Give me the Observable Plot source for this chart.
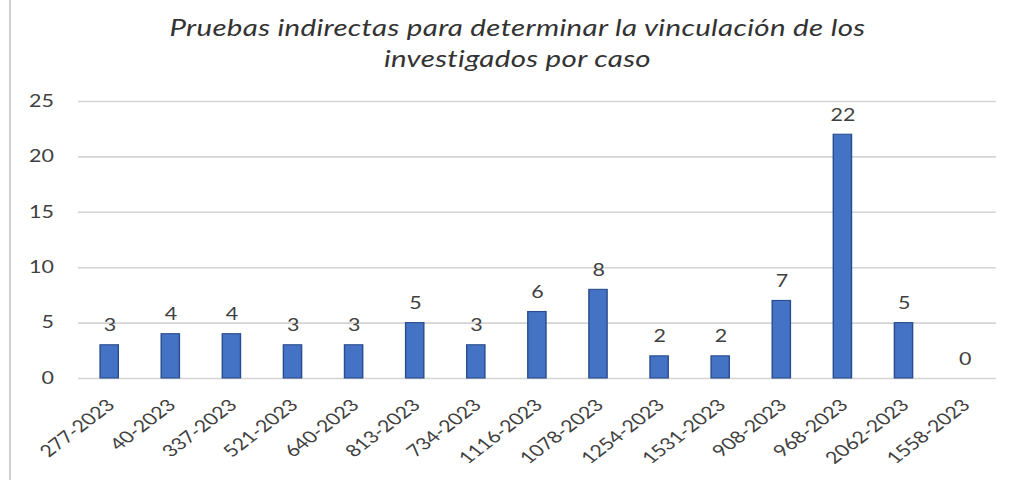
<!DOCTYPE html>
<html>
<head>
<meta charset="utf-8">
<script src="https://cdn.jsdelivr.net/npm/d3@7"></script>
<script src="https://cdn.jsdelivr.net/npm/@observablehq/plot@0.6"></script>
<style>
  html, body { margin: 0; padding: 0; background: #fff; }
  #frame { position: relative; width: 1015px; height: 480px; overflow: hidden; }
  #border { position: absolute; left: 9px; top: 0; width: 2px; height: 480px; background: #d0d0d0; }
  #stretch { position: absolute; left: 0; top: 0; width: 781px; height: 480px;
    transform: scaleX(1.3); transform-origin: 0 0; }
  #title { position: absolute; left: 0; top: 12px; width: 796px; text-align: center;
    font-family: Lato, "Open Sans", sans-serif; font-style: italic; font-size: 22.7px;
    line-height: 31px; color: #333; letter-spacing: 0.25px; }
  #chart { position: absolute; left: 0; top: 80px; }
</style>
</head>
<body>
<div id="frame">
  <div id="border"></div>
  <div id="stretch">
    <div id="title">Pruebas indirectas para determinar la vinculación de los<br>investigados por caso</div>
    <div id="chart"></div>
  </div>
</div>
<script>
const cases = ["277-2023","40-2023","337-2023","521-2023","640-2023","813-2023","734-2023","1116-2023","1078-2023","1254-2023","1531-2023","908-2023","968-2023","2062-2023","1558-2023"];
const values = [3,4,4,3,3,5,3,6,8,2,2,7,22,5,0];
const yTicks = [0,5,10,15,20,25];

const data = cases.map((c, i) => ({caso: c, valor: values[i]}));

const chart = Plot.plot({
  width: 781,
  height: 400,
  marginLeft: 60,
  marginRight: 15,
  marginTop: 21,
  marginBottom: 102,
  style: { fontFamily: "Lato, 'Open Sans', sans-serif", color: "#404040", background: "transparent" },
  x: { domain: cases, paddingInner: 0.7, paddingOuter: 0.33, label: null },
  y: { domain: [0, 25], label: null },
  marks: [
    Plot.gridY(yTicks, { stroke: "#d4d4d4", strokeOpacity: 1, strokeWidth: 1.6 }),
    Plot.barY(data, { x: "caso", y: "valor", fill: "#4472C4", stroke: "#2A4D8F", strokeWidth: 1.1 }),
    Plot.text(data, { x: "caso", y: "valor", text: d => String(d.valor), lineAnchor: "bottom", dy: -14, fontSize: 16.5, fill: "#404040" }),
    Plot.axisY(yTicks, { tickSize: 0, tickPadding: 19, fontSize: 16.5, fill: "#404040", label: null }),
    Plot.axisX({ tickSize: 0, tickRotate: -45, tickPadding: 19, dx: 1, dy: 5, fontSize: 16.5, fill: "#404040", label: null })
  ]
});
document.getElementById("chart").appendChild(chart);
</script>
</body>
</html>
